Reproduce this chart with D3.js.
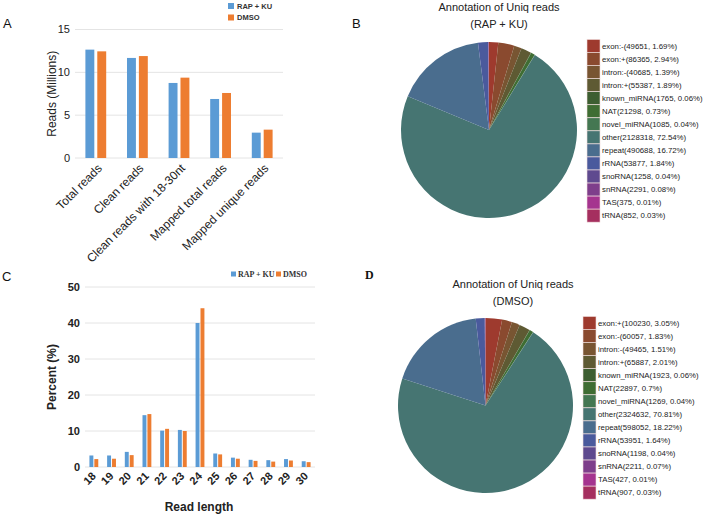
<!DOCTYPE html>
<html>
<head>
<meta charset="utf-8">
<script src="https://cdn.jsdelivr.net/npm/d3@7"></script>
<style>
  body { margin: 0; background: #fff; }
  svg { display: block; font-family: "Liberation Sans", Arial, sans-serif; }
</style>
</head>
<body>
<div id="chart"></div>
<script>
// panel A - read counts
var catsA = ['Total reads', 'Clean reads', 'Clean reads with 18-30nt', 'Mapped total reads', 'Mapped unique reads'];
var rapA = [12.65, 11.68, 8.76, 6.89, 2.96];
var dmsoA = [12.45, 11.9, 9.38, 7.59, 3.31];
var ticksA = [0, 5, 10, 15];

// panel C - length distribution
var lengthsC = ['18', '19', '20', '21', '22', '23', '24', '25', '26', '27', '28', '29', '30'];
var rapC = [3.2, 3.2, 4.2, 14.4, 10.1, 10.3, 40.0, 3.75, 2.6, 2.0, 1.9, 2.2, 1.6];
var dmsoC = [2.2, 2.3, 3.3, 14.7, 10.6, 10.0, 44.1, 3.5, 2.3, 1.7, 1.5, 1.8, 1.35];
var ticksC = [0, 10, 20, 30, 40, 50];

var seriesNames = ['RAP + KU', 'DMSO'];

// panel B / D - annotation pies
var namesB = ['exon:-', 'exon:+', 'intron:-', 'intron:+', 'known_miRNA', 'NAT', 'novel_miRNA', 'other', 'repeat', 'rRNA', 'snoRNA', 'snRNA', 'TAS', 'tRNA'];
var countsB = [49651, 86365, 40685, 55387, 1765, 21298, 1085, 2128318, 490688, 53877, 1258, 2291, 375, 852];
var pctB = ['1.69', '2.94', '1.39', '1.89', '0.06', '0.73', '0.04', '72.54', '16.72', '1.84', '0.04', '0.08', '0.01', '0.03'];

var namesD = ['exon:+', 'exon:-', 'intron:-', 'intron:+', 'known_miRNA', 'NAT', 'novel_miRNA', 'other', 'repeat', 'rRNA', 'snoRNA', 'snRNA', 'TAS', 'tRNA'];
var countsD = [100230, 60057, 49465, 65887, 1923, 22897, 1269, 2324632, 598052, 53951, 1198, 2211, 427, 907];
var pctD = ['3.05', '1.83', '1.51', '2.01', '0.06', '0.7', '0.04', '70.81', '18.22', '1.64', '0.04', '0.07', '0.01', '0.03'];

var barColors = ['#5b9bd5', '#ed7d31'];
var pieColors = ['#9e3a2e', '#8a4a2f', '#785532', '#5e5a33', '#3d5e31', '#3f6d33', '#447752', '#467572', '#4a6d8e', '#4a5a9d', '#5f4a8f', '#7e3e8b', '#a5348f', '#a52f5f'];

var svg = d3.select('#chart').append('svg')
    .attr('width', 704)
    .attr('height', 516);

function barPanel(opt) {
    var g = svg.append('g');
    var x0 = d3.scaleBand().domain(opt.cats).range(opt.xr).paddingInner(0.5).paddingOuter(0.25);
    var x1 = d3.scaleBand().domain([0, 1]).range([0, x0.bandwidth()]).paddingInner(opt.sub);
    var y = d3.scaleLinear().domain(opt.ydom).range(opt.yr);

    g.selectAll('line.grid')
        .data(opt.ticks)
        .enter()
        .append('line')
        .attr('x1', opt.xr[0]).attr('x2', opt.xr[1])
        .attr('y1', function (d) { return y(d); })
        .attr('y2', function (d) { return y(d); })
        .style('stroke', '#e4e4e4')
        .style('stroke-width', 1);

    g.selectAll('text.tick')
        .data(opt.ticks)
        .enter()
        .append('text')
        .text(function (d) { return d; })
        .attr('x', opt.xr[0] - 5)
        .attr('y', function (d) { return y(d); })
        .attr('dy', '0.35em')
        .attr('text-anchor', 'end')
        .style('font-size', opt.tickSize)
        .style('font-weight', opt.bold ? 'bold' : 'normal')
        .style('fill', '#222');

    var groups = g.selectAll('g.cat')
        .data(opt.cats)
        .enter()
        .append('g')
        .attr('transform', function (d) { return 'translate(' + x0(d) + ',0)'; });

    [opt.a, opt.b].forEach(function (vals, s) {
        groups.append('rect')
            .attr('x', x1(s))
            .attr('width', x1.bandwidth())
            .attr('y', function (d, i) { return y(vals[i]); })
            .attr('height', function (d, i) { return y(0) - y(vals[i]); })
            .style('fill', barColors[s]);
    });

    g.selectAll('text.xlab')
        .data(opt.cats)
        .enter()
        .append('text')
        .text(function (d) { return d; })
        .attr('transform', function (d) {
            return 'translate(' + (x0(d) + x0.bandwidth() / 2 + opt.labDx) + ',' + opt.labY + ') rotate(-45)';
        })
        .attr('dy', '0.35em')
        .attr('text-anchor', 'end')
        .style('font-size', opt.labSize)
        .style('font-weight', opt.bold ? 'bold' : 'normal')
        .style('fill', '#222');

    g.append('text')
        .text(opt.ylabel)
        .attr('transform', 'translate(' + opt.ylabX + ',' + ((opt.yr[0] + opt.yr[1]) / 2) + ') rotate(-90)')
        .attr('dy', '0.35em')
        .attr('text-anchor', 'middle')
        .style('font-size', '12px')
        .style('font-weight', opt.bold ? 'bold' : 'normal')
        .style('fill', '#222');
    return g;
}

barPanel({
    cats: catsA, a: rapA, b: dmsoA, ticks: ticksA,
    xr: [75, 283], ydom: [0, 15], yr: [158, 29.5], sub: 0.25,
    tickSize: '11px', labSize: '12px', labDx: 4, labY: 166,
    ylabel: 'Reads (Millions)', ylabX: 52, bold: false
});

var gC = barPanel({
    cats: lengthsC, a: rapC, b: dmsoC, ticks: ticksC,
    xr: [85, 315], ydom: [0, 50], yr: [467, 287], sub: 0.2,
    tickSize: '11px', labSize: '11px', labDx: 0, labY: 474,
    ylabel: 'Percent (%)', ylabX: 52, bold: true
});

gC.append('text')
    .text('Read length')
    .attr('x', 199).attr('y', 511)
    .attr('text-anchor', 'middle')
    .style('font-size', '12px')
    .style('font-weight', 'bold')
    .style('fill', '#222');

// legend A (stacked)
var legA = svg.append('g').selectAll('g')
    .data(seriesNames)
    .enter()
    .append('g')
    .attr('transform', function (d, i) { return 'translate(228,' + (6 + i * 11.5) + ')'; });
legA.append('rect').attr('x', 0).attr('y', -3).attr('width', 6).attr('height', 6)
    .style('fill', function (d, i) { return barColors[i]; });
legA.append('text').text(function (d) { return d; })
    .attr('x', 9).attr('dy', '0.35em')
    .style('font-size', '7.5px').style('font-weight', 'bold').style('fill', '#333');

// legend C (inline, serif)
var legC = svg.append('g').selectAll('g')
    .data(seriesNames)
    .enter()
    .append('g')
    .attr('transform', function (d, i) { return 'translate(' + (231 + i * 45) + ',274)'; });
legC.append('rect').attr('x', 0).attr('y', -2.5).attr('width', 5).attr('height', 5)
    .style('fill', function (d, i) { return barColors[i]; });
legC.append('text').text(function (d) { return d; })
    .attr('x', 7).attr('dy', '0.35em')
    .style('font-family', '"Liberation Serif", "Times New Roman", serif')
    .style('font-size', '8px').style('font-weight', 'bold').style('fill', '#333');

function piePanel(opt) {
    var g = svg.append('g');
    var pie = d3.pie().sort(null).value(function (d) { return d; });
    var arc = d3.arc().innerRadius(0).outerRadius(opt.r);
    g.append('g')
        .attr('transform', 'translate(' + opt.cx + ',' + opt.cy + ')')
        .selectAll('path')
        .data(pie(opt.counts))
        .enter()
        .append('path')
        .attr('d', arc)
        .style('fill', function (d, i) { return pieColors[i]; });

    g.selectAll('text.title')
        .data(opt.title)
        .enter()
        .append('text')
        .text(function (d) { return d; })
        .attr('x', opt.tx)
        .attr('y', function (d, i) { return opt.ty + i * 17; })
        .attr('text-anchor', 'middle')
        .style('font-size', '11px')
        .style('fill', '#222');

    var rows = g.selectAll('g.leg')
        .data(opt.names)
        .enter()
        .append('g')
        .attr('transform', function (d, i) { return 'translate(' + opt.lx + ',' + (opt.ly + i * 13.05) + ')'; });
    rows.append('rect')
        .attr('x', 0).attr('y', -6.5)
        .attr('width', 13).attr('height', 13)
        .style('fill', function (d, i) { return pieColors[i]; })
        .style('stroke', '#f2dede').style('stroke-width', 0.6);
    rows.append('text')
        .text(function (d, i) { return d + '(' + opt.counts[i] + ', ' + opt.pct[i] + '%)'; })
        .attr('x', 15).attr('dy', '0.35em')
        .style('font-size', '7.8px')
        .style('fill', '#222');
}

piePanel({ cx: 489, cy: 130, r: 88, counts: countsB, names: namesB, pct: pctB,
    title: ['Annotation of Uniq reads', '(RAP + KU)'], tx: 499, ty: 11, lx: 587, ly: 46 });
piePanel({ cx: 485.5, cy: 405.5, r: 87.5, counts: countsD, names: namesD, pct: pctD,
    title: ['Annotation of Uniq reads', '(DMSO)'], tx: 513, ty: 288, lx: 583, ly: 323 });

// panel letters
svg.append('text').text('A').attr('x', 3).attr('y', 28).style('font-size', '13px').style('fill', '#111');
svg.append('text').text('B').attr('x', 352).attr('y', 28).style('font-size', '13px').style('fill', '#111');
svg.append('text').text('C').attr('x', 2).attr('y', 281).style('font-size', '13px').style('fill', '#111');
svg.append('text').text('D').attr('x', 365).attr('y', 279)
    .style('font-family', '"Liberation Serif", serif').style('font-weight', 'bold')
    .style('font-size', '12px').style('fill', '#111');
</script>
</body>
</html>
